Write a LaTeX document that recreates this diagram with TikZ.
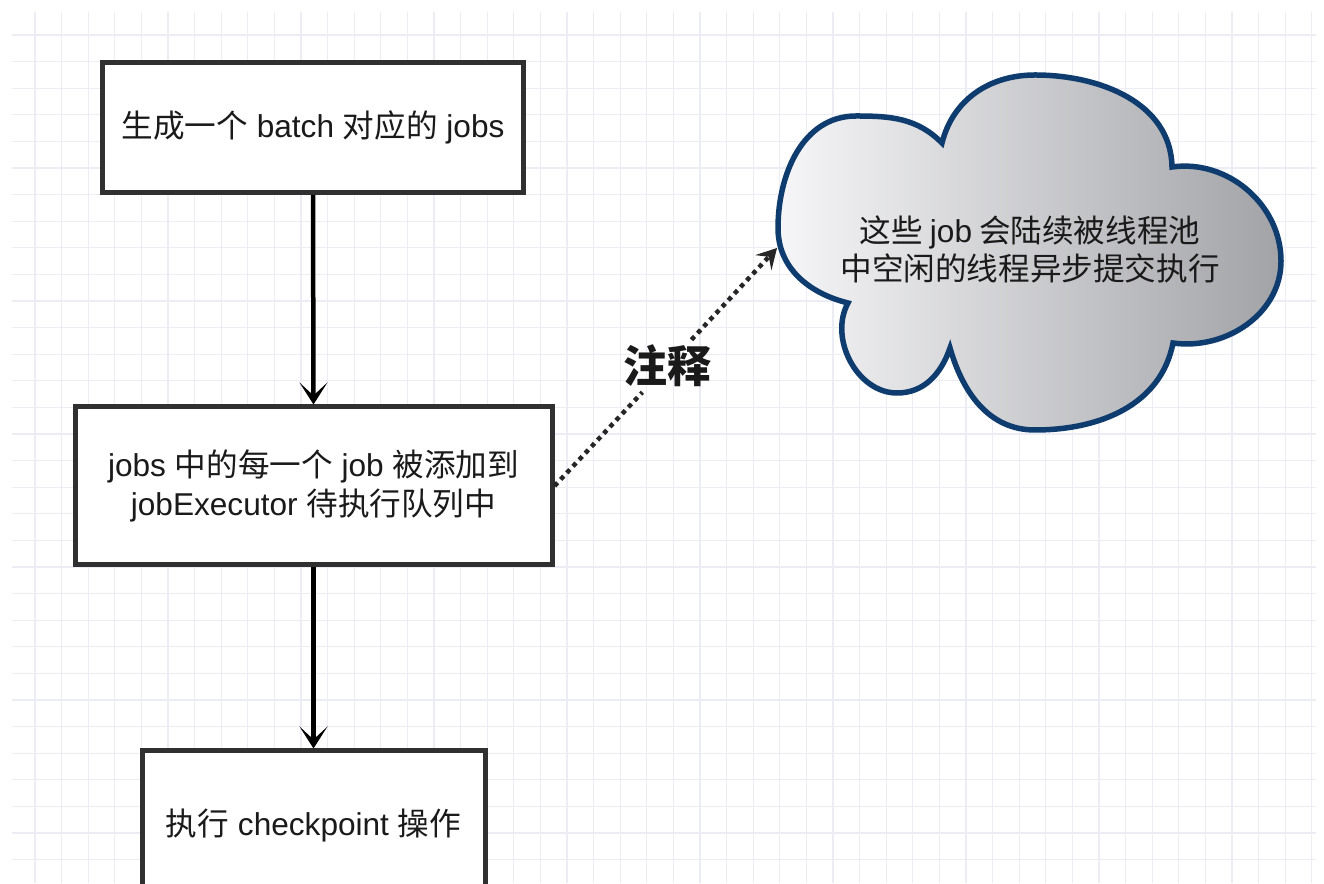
\documentclass[tikz,border=0pt]{standalone}
\usepackage{fontspec}
\setmainfont{Liberation Sans}
\newfontfamily\cjk{Noto Sans CJK SC}
\usetikzlibrary{arrows.meta}
\definecolor{gridc}{HTML}{ECECF4}
\definecolor{boxc}{HTML}{303030}
\definecolor{txt}{HTML}{1A1A1A}
\definecolor{cloudline}{HTML}{0F3C6E}
\definecolor{cloudL}{HTML}{F6F6F8}
\definecolor{cloudR}{HTML}{A2A3A7}
\begin{document}
\begin{tikzpicture}[x=1pt,y=1pt,
  gridline/.style={gridc, line width=1.2pt},
  stepbox/.style={draw=boxc, line width=5pt, fill=white, align=center, text=txt, inner sep=0pt, font=\fontsize{31.6}{38.5}\selectfont},
  flow/.style={line width=4.5pt, black, -{Stealth[length=22pt,width=28pt,inset=13pt]}},
  notearrow/.style={line width=4.5pt, black!85, dash pattern=on 4.5pt off 4.5pt},
  notehead/.style={-{Stealth[length=20pt,width=22pt,inset=8pt]}},
  cloudtxt/.style={align=center, text=txt, font=\cjk\fontsize{31.6}{38}\selectfont},
]
\useasboundingbox (0,0) rectangle (1324,883);
\clip (0,0) rectangle (1324,883);
\fill[white] (0,0) rectangle (1324,883);
% grid
\foreach \i in {0,...,48} { \draw[gridline] ({35+26.6*\i},0) -- ({35+26.6*\i},871); }
\foreach \i in {0,...,31} { \draw[gridline] (12,{848-26.6*\i}) -- (1316,{848-26.6*\i}); }

% cloud
\draw[cloudline, line width=5.5pt, left color=cloudL, right color=cloudR]
  (848,580) to[out=166,in=-90] (778,655) to[out=90,in=180] (856,767)
  to[out=0,in=135] (942,740)
  to[out=76,in=180] (1035,808) to[out=0,in=91] (1172,716)
  to[out=8,in=90] (1281,622) to[out=-90,in=-8] (1173,540)
  to[out=-101,in=0] (1035,453) to[out=180,in=-74] (950,535)
  to[out=-109,in=0] (897,490) to[out=180,in=-119] cycle;
\node[cloudtxt] (cloudtext) at (1030,634) {这些 {\fontspec{Liberation Sans}job} 会陆续被线程池\\中空闲的线程异步提交执行};
\coordinate (cloudW) at (777,635);

% boxes
\node[stepbox, minimum width=421, minimum height=130] (b1) at (313,755.5)
  {{\cjk 生成一个} batch {\cjk 对应的} jobs};
\node[stepbox, minimum width=477, minimum height=158] (b2) at (313.5,397)
  {jobs {\cjk 中的每一个} job {\cjk 被添加到}\\jobExecutor {\cjk 待执行队列中}};
\node[stepbox, minimum width=343, minimum height=148] (b3) at (313.5,58)
  {{\cjk 执行} checkpoint {\cjk 操作}};

% flow arrows
\draw[flow] (b1.south) -- (b2.north);
\draw[flow] (b2.south) -- (b3.north);

% note
\node[text=txt, font=\cjk\bfseries\fontsize{44}{44}\selectfont, inner sep=5pt] (lbl) at (667,517) {注释};
\draw[notearrow] (b2.east) -- (lbl);
\draw[notearrow, notehead] (lbl) -- (cloudW);
\end{tikzpicture}
\end{document}
